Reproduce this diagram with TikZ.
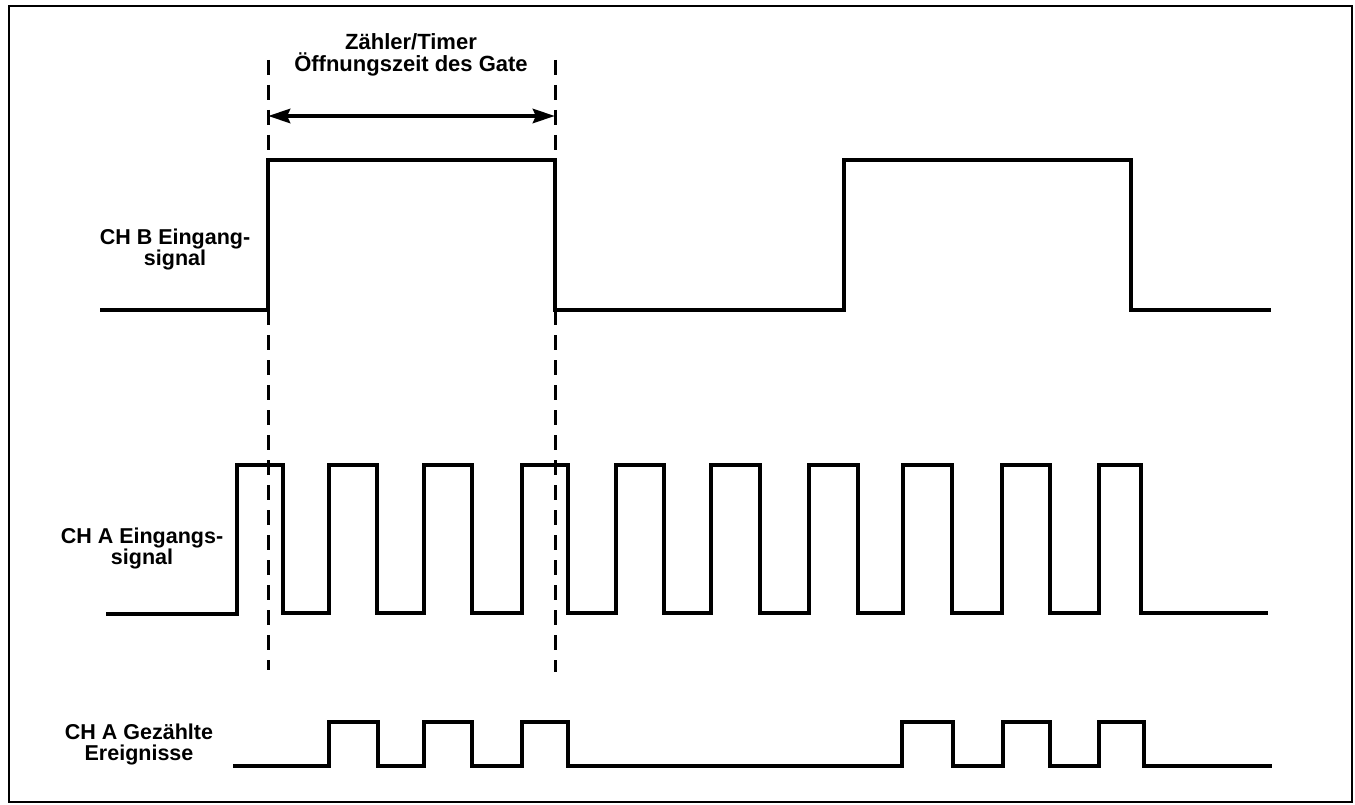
\documentclass[tikz,border=0pt]{standalone}
\usepackage{fontspec}
\setmainfont{Liberation Sans}
\usetikzlibrary{arrows.meta}
\begin{document}
\begin{tikzpicture}[x=1pt,y=-1pt,
  sig/.style={line width=4pt, line join=miter},
  lbl/.style={font=\bfseries\fontsize{21.5}{21}\selectfont, align=center, inner sep=0pt},
  guide/.style={line width=3pt, dash pattern=on 15pt off 10pt},
  frame/.style={line width=2.5pt},
  span/.style={line width=4.5pt, {Stealth[length=22pt,width=14pt,inset=3pt]}-{Stealth[length=22pt,width=14pt,inset=3pt]}}]
\useasboundingbox (0,0) rectangle (1355,805);
\draw[frame] (9,6) rectangle (1352,802);

% gate guides
\coordinate (gLt) at (268,60);
\coordinate (gLb) at (268,670);
\coordinate (gRt) at (555,60);
\coordinate (gRb) at (555,672);
\draw[guide] (gLt) -- (gLb);
\draw[guide] (gRt) -- (gRb);

% gate time arrow
\coordinate (aL) at (268,116);
\coordinate (aR) at (555,116);
\draw[span] (aL) -- (aR);

\node[lbl, font=\bfseries\fontsize{22}{22}\selectfont] (title) at (411,55) {Zähler/Timer\\Öffnungszeit des Gate};

% labels
\node[lbl] (chb) at (175,249) {CH B Eingang-\\signal};
\node[lbl] (cha) at (142,548) {CH A Eingangs-\\signal};
\node[lbl] (cnt) at (139,744) {CH A Gezählte\\Ereignisse};

% CH B
\draw[sig] (100,310) -- (268,310) -- (268,160) -- (555,160) -- (555,310)
  -- (844,310) -- (844,160) -- (1131,160) -- (1131,310) -- (1271,310);

% CH A
\draw[sig] (106,614) -- (237,614) -- (237,465) -- (283,465) -- (283,613)
  -- (329,613) -- (329,465) -- (377,465) -- (377,613)
  -- (424,613) -- (424,465) -- (472,465) -- (472,613)
  -- (522,613) -- (522,465) -- (568,465) -- (568,613)
  -- (616,613) -- (616,465) -- (664,465) -- (664,613)
  -- (711,613) -- (711,465) -- (760,465) -- (760,613)
  -- (809,613) -- (809,465) -- (858,465) -- (858,613)
  -- (903,613) -- (903,465) -- (952,465) -- (952,613)
  -- (1002,613) -- (1002,465) -- (1050,465) -- (1050,613)
  -- (1099,613) -- (1099,465) -- (1141,465) -- (1141,613) -- (1268,613);

% CH A counted
\draw[sig] (233,766) -- (329,766) -- (329,722) -- (378,722) -- (378,766)
  -- (424,766) -- (424,722) -- (472,722) -- (472,766)
  -- (522,766) -- (522,722) -- (568,722) -- (568,766)
  -- (902,766) -- (902,722) -- (953,722) -- (953,766)
  -- (1003,766) -- (1003,722) -- (1050,722) -- (1050,766)
  -- (1099,766) -- (1099,722) -- (1144,722) -- (1144,766) -- (1272,766);
\end{tikzpicture}
\end{document}
